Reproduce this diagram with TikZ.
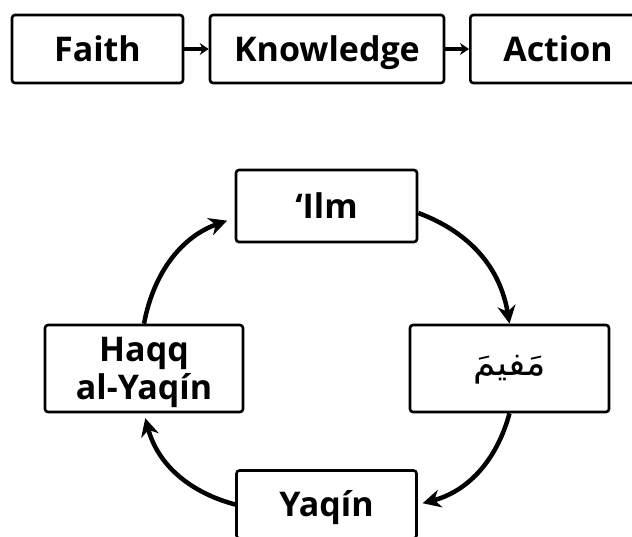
\documentclass[tikz,border=0pt]{standalone}
\usepackage{fontspec}
\setmainfont{Open Sans}[BoldFont={Open Sans Bold}]
\newfontfamily\arabicfont[Script=Arabic]{DejaVu Sans}
\TeXXeTstate=1
\usepackage{tikz}
\usetikzlibrary{arrows.meta}
\usetikzlibrary{positioning}
\tikzstyle{box} = [draw, rounded corners=3pt, line width=2.6pt, font=\fontsize{34}{38}\selectfont\bfseries, align=center, inner sep=0pt, text height=24.5pt, text depth=0pt]
\tikzstyle{link} = [line width=3.4pt, -{Stealth[length=9pt, width=12pt]}]
\tikzstyle{loop} = [line width=4.5pt, -{Stealth[length=18pt, width=18pt]}, bend left=30]

\begin{document}
\begin{tikzpicture}[x=1pt, y=-1pt]
                        \useasboundingbox (0,0) rectangle (632,536);
                        \node[box, minimum width=171pt, minimum height=68pt](Faith) at (97.5,49) {Faith};
                        \node[box, minimum width=234pt, minimum height=68pt](Know) at (327,49) {Knowledge};
                        \node[box, anchor=west, minimum height=68pt, text width=200pt, inner xsep=33pt, align=left](Act) at (469,49) {Action};

                        \node[box, minimum width=181pt, minimum height=72pt](Ilm) at (326.5,206) {‘Ilm};
                        \node[box, minimum width=199pt, minimum height=87pt, text height=20pt, text depth=6pt, font=\fontsize{36}{38}\selectfont\arabicfont](Mufim) at (509.5,368.5) {\beginR مَفيمَ\endR};
                        \node[box, minimum width=180pt, minimum height=68pt](Yaqin) at (326.5,504.5) {Yaqín};
                        \node[box, minimum width=198pt, minimum height=87pt, text height=62.5pt](Haqq) at (144,368.5) {Haqq\\al-Yaqín};

                        \draw[link] (Faith) -- (Know);
                        \draw[link] (Know) -- (Act);
                        \draw[loop] ([yshift=-7pt]Ilm.east) to (Mufim.north);
                        \draw[loop, shorten >=5pt] (Mufim.south) to (Yaqin.east);
                        \draw[loop, shorten >=5pt] (Yaqin.west) to (Haqq.south);
                        \draw[loop, shorten >=8pt] (Haqq.north) to ([yshift=-12pt]Ilm.west);
                    \end{tikzpicture}
\end{document}
